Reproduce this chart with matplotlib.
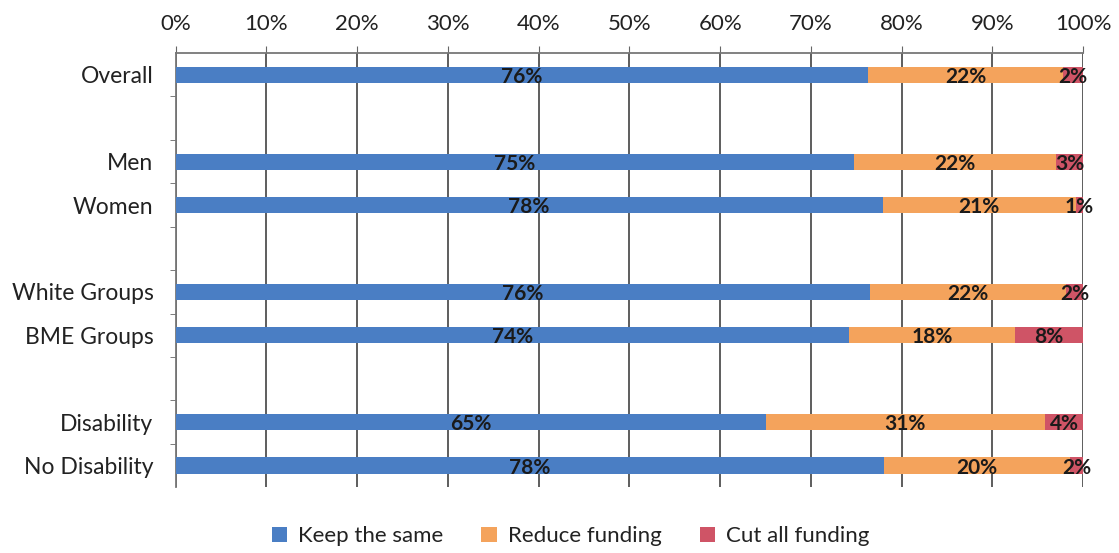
import matplotlib.pyplot as plt
import numpy as np

# rows top to bottom; blank strings are spacer rows
categories = ['Overall', '', 'Men', 'Women', '', 'White Groups', 'BME Groups', '', 'Disability', 'No Disability']
keep_same = [76.3, None, 74.7, 77.9, None, 76.5, 74.2, None, 65.0, 78.1]
reduce_funding = [21.5, None, 22.3, 21.3, None, 21.6, 18.3, None, 30.8, 20.4]
cut_all = [2.2, None, 3.0, 0.8, None, 1.9, 7.5, None, 4.2, 1.5]
series_names = ['Keep the same', 'Reduce funding', 'Cut all funding']
colors = ['#4a7ec4', '#f4a35c', '#cf5466']

plt.rcParams['font.family'] = ['Lato', 'DejaVu Sans']

fig = plt.figure(figsize=(11.19, 5.53), dpi=100)
ax = fig.add_axes([0.157, 0.119, 0.811, 0.785])

rows = [i for i, c in enumerate(categories) if c]
y = np.array(rows) + 0.5
left = np.zeros(len(rows))
for name, vals, col in zip(series_names, [keep_same, reduce_funding, cut_all], colors):
    v = np.array([vals[i] for i in rows])
    ax.barh(y, v, left=left, height=0.37, color=col, label=name, zorder=3)
    for yy, l, w in zip(y, left, v):
        ax.text(l + w / 2, yy + 0.05, f'{round(w):.0f}%', ha='center', va='center',
                fontsize=15, fontweight='bold', color='#1a1a1a', zorder=4)
    left += v

ax.set_xlim(0, 100)
ax.set_ylim(len(categories), 0)
ax.set_xticks(np.arange(0, 101, 10))
ax.set_xticklabels([f'{t}%' for t in range(0, 101, 10)], fontsize=16, color='#222222')
ax.xaxis.tick_top()
ax.tick_params(axis='x', length=5, color='#666666', pad=9)
ax.grid(axis='x', color='#505050', lw=1.3, zorder=1)

ax.set_yticks(y)
ax.set_yticklabels([categories[i] for i in rows], fontsize=16.5, color='#222222')
ax.set_yticks(np.arange(1, len(categories)), minor=True)
ax.tick_params(axis='y', which='major', length=0, pad=16)
ax.tick_params(axis='y', which='minor', length=4, color='#666666')

for s in ['right', 'bottom']:
    ax.spines[s].set_visible(False)
for s in ['top', 'left']:
    ax.spines[s].set_color('#777777')
    ax.spines[s].set_linewidth(1.3)

fig.legend(loc='center', bbox_to_anchor=(0.51, 0.03), ncol=3, frameon=False,
           fontsize=16, handlelength=0.7, handleheight=0.7, columnspacing=1.7,
           handletextpad=0.5, labelcolor='#222222')

fig.savefig('out.png', dpi=100)
